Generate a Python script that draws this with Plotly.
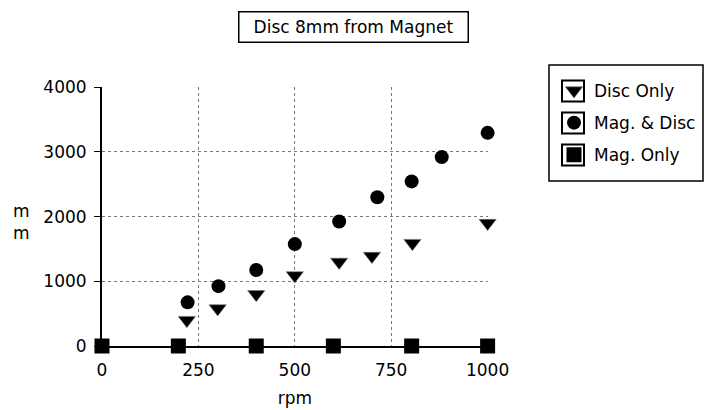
import plotly.graph_objects as go

# ---- data ----
rpm_disc = [220, 300, 400, 500, 615, 700, 805, 1000]
disc_only = [400, 580, 800, 1090, 1300, 1390, 1590, 1900]

rpm_mag_disc = [222, 302, 400, 500, 615, 714, 803, 881, 1000]
mag_disc = [675, 925, 1175, 1575, 1925, 2300, 2545, 2920, 3295]

rpm_mag = [0, 198, 400, 600, 803, 1000]
mag_only = [0, 0, 0, 0, 0, 0]

x_ticks = [0, 250, 500, 750, 1000]
y_ticks = [0, 1000, 2000, 3000, 4000]

title_text = "Disc 8mm from Magnet"
x_title = "rpm"
y_title = "m<br>m"

FONT = "DejaVu Sans"
FS = 17

# ---- layout geometry (pixels) ----
W, H = 704, 410
ML, MR, MT, MB = 102, 216, 87, 64
PW = W - ML - MR
PH = H - MT - MB


def px2x(px):
    return (px - ML) / PW


def px2y(py):
    return (H - MB - py) / PH


fig = go.Figure()
fig.add_trace(go.Scatter(
    x=rpm_disc, y=disc_only, mode="markers", name="Disc Only",
    legendgroup="a",
    marker=dict(symbol="triangle-down", size=15, color="black",
                line=dict(width=0.6, color="#777")),
    cliponaxis=False))
fig.add_trace(go.Scatter(
    x=rpm_mag_disc, y=mag_disc, mode="markers", name="Mag. & Disc",
    legendgroup="b",
    marker=dict(symbol="circle", size=14, color="black", line=dict(width=0)),
    cliponaxis=False))
fig.add_trace(go.Scatter(
    x=rpm_mag, y=mag_only, mode="markers", name="Mag. Only",
    legendgroup="c",
    marker=dict(symbol="square", size=15, color="black", line=dict(width=0)),
    cliponaxis=False))

shapes = [
    # legend frame
    dict(type="rect", xref="paper", yref="paper",
         x0=px2x(549), x1=px2x(703), y0=px2y(181), y1=px2y(65),
         line=dict(color="black", width=1.5), fillcolor="white",
         layer="below"),
]
for cy in (91, 123, 155):
    shapes.append(dict(type="rect", xref="paper", yref="paper",
                       x0=px2x(562), x1=px2x(584),
                       y0=px2y(cy + 10.5), y1=px2y(cy - 10.5),
                       line=dict(color="black", width=2),
                       fillcolor="rgba(0,0,0,0)", layer="above"))

fig.update_layout(
    width=W, height=H,
    margin=dict(l=ML, r=MR, t=MT, b=MB, autoexpand=False),
    paper_bgcolor="white", plot_bgcolor="rgba(0,0,0,0)",
    font=dict(family=FONT, size=FS, color="black"),
    showlegend=True,
    legend=dict(x=px2x(554), y=px2y(73), xanchor="left", yanchor="top",
                borderwidth=0, bgcolor="rgba(0,0,0,0)",
                font=dict(family=FONT, size=FS, color="black"),
                tracegroupgap=7, itemsizing="trace"),
    xaxis=dict(range=[0, 1001], tickvals=x_ticks, showline=True,
               linecolor="black", linewidth=2, ticks="", automargin=False,
               showgrid=True, gridcolor="#777", griddash="dot", gridwidth=1,
               zeroline=False, ticklabelstandoff=8,
               title=dict(text=x_title, standoff=13,
                          font=dict(family=FONT, size=FS))),
    yaxis=dict(range=[0, 4004], tickvals=y_ticks, showline=True,
               linecolor="black", linewidth=2, ticks="outside", ticklen=6,
               tickcolor="black", tickwidth=1, automargin=False,
               showgrid=True, gridcolor="#777", griddash="dot", gridwidth=1,
               zeroline=False, ticklabelstandoff=4),
    annotations=[
        dict(text=title_text, xref="paper", yref="paper",
             x=px2x(353), y=px2y(27.5), xanchor="center", yanchor="middle",
             showarrow=False, font=dict(family=FONT, size=FS),
             bordercolor="black", borderwidth=1.5, borderpad=0,
             width=228, height=29),
        dict(text=y_title, xref="paper", yref="paper",
             x=px2x(21), y=px2y(222), xanchor="center", yanchor="middle",
             showarrow=False, font=dict(family=FONT, size=FS)),
    ],
    shapes=shapes,
)

fig.write_html("out.html")
